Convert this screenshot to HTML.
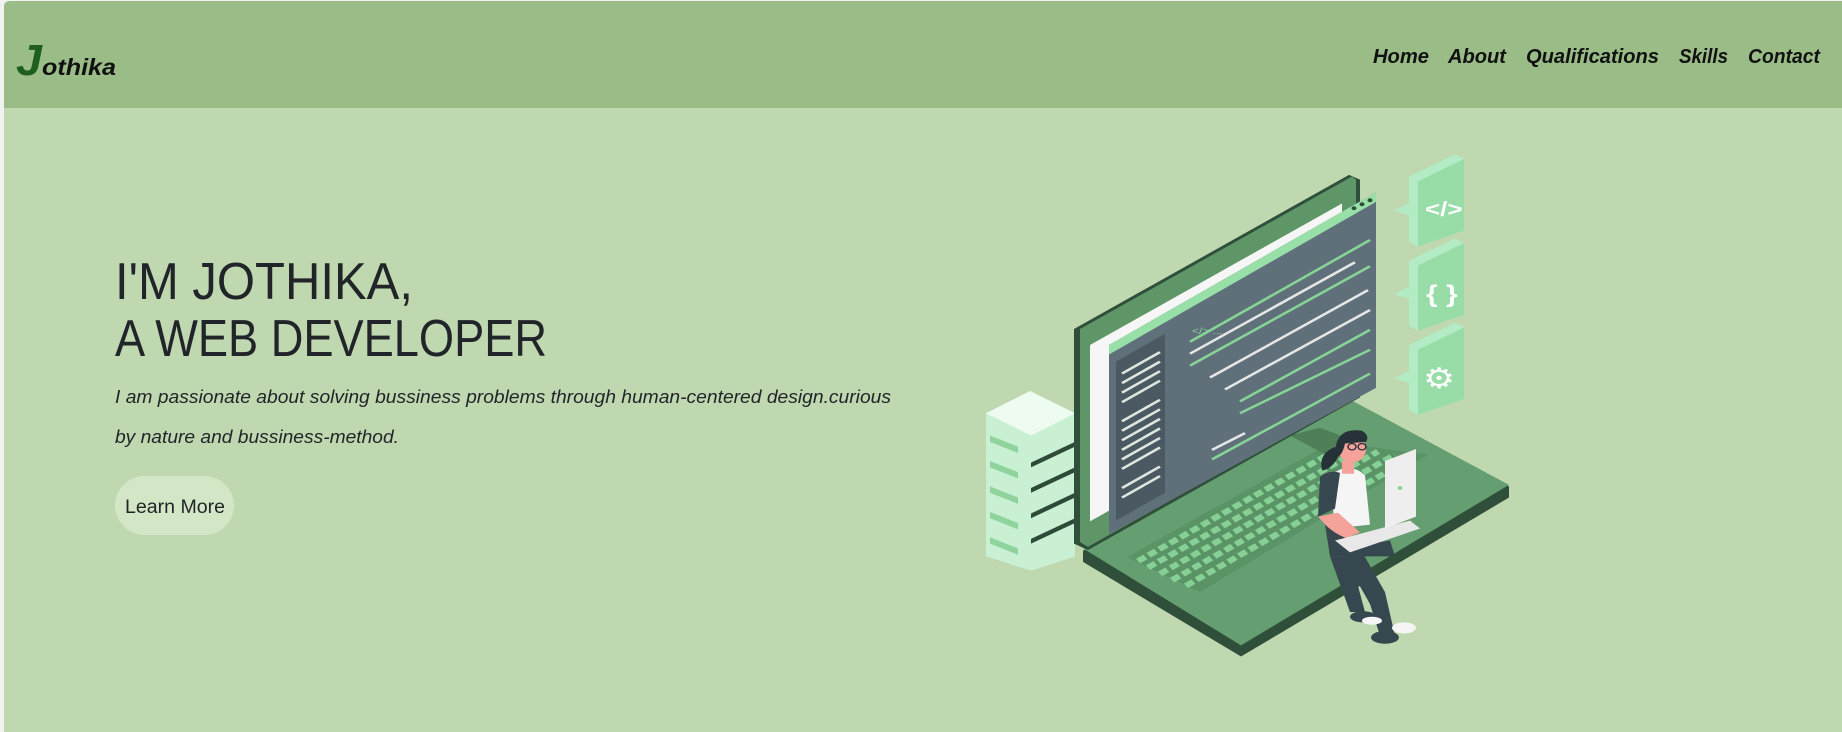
<!DOCTYPE html>
<html><head><meta charset="utf-8"><style>
html,body{margin:0;padding:0;width:1842px;height:732px;overflow:hidden;background:#f2f2f2;}
svg{position:absolute;left:0;top:0;}
</style></head><body>
<svg width="1842" height="732" viewBox="0 0 1842 732" xmlns="http://www.w3.org/2000/svg" font-family="Liberation Sans, sans-serif">
<rect x="4" y="1" width="1850" height="740" rx="6" fill="#bfd8b0"/>
<path d="M4,108 L4,7 Q4,1 10,1 L1842,1 L1842,108 Z" fill="#9abd87"/>
<!-- logo -->
<text x="16" y="75" font-size="44" font-weight="bold" font-style="italic" fill="#1e5e1e" textLength="26" lengthAdjust="spacingAndGlyphs">J</text>
<text x="42" y="75" font-size="23" font-weight="bold" font-style="italic" fill="#111" textLength="74" lengthAdjust="spacingAndGlyphs">othika</text>
<!-- nav -->
<g font-size="20" font-weight="bold" font-style="italic" fill="#111">
<text x="1373" y="63" textLength="56" lengthAdjust="spacingAndGlyphs">Home</text>
<text x="1448" y="63" textLength="58" lengthAdjust="spacingAndGlyphs">About</text>
<text x="1526" y="63" textLength="133" lengthAdjust="spacingAndGlyphs">Qualifications</text>
<text x="1679" y="63" textLength="49" lengthAdjust="spacingAndGlyphs">Skills</text>
<text x="1748" y="63" textLength="72" lengthAdjust="spacingAndGlyphs">Contact</text>
</g>
<!-- heading -->
<g fill="#212529" font-size="52">
<text x="115" y="299" textLength="298" lengthAdjust="spacingAndGlyphs">I'M JOTHIKA,</text>
<text x="115" y="356" textLength="432" lengthAdjust="spacingAndGlyphs">A WEB DEVELOPER</text>
</g>
<g fill="#212529" font-size="18" font-style="italic">
<text x="115" y="403" textLength="776" lengthAdjust="spacingAndGlyphs">I am passionate about solving bussiness problems through human-centered design.curious</text>
<text x="115" y="443" textLength="284" lengthAdjust="spacingAndGlyphs">by nature and bussiness-method.</text>
</g>
<rect x="115" y="476" width="119" height="59" rx="29.5" fill="#d3e6c6"/>
<text x="125" y="513" font-size="19" fill="#212529" textLength="100" lengthAdjust="spacingAndGlyphs">Learn More</text>

<!-- illustration -->
<g transform="scale(1,0.7948)">
<g>
<polygon points="986,520 1030,492 1075,520 1075,700 1031,718 986,700" fill="#c9f0d3"/>
<polygon points="986,520 1030,492 1075,520 1031,548" fill="#eefbf1"/>
<g fill="#2e4a38">
<polygon points="1031,582 1075,556 1075,562 1031,588"/>
<polygon points="1031,614 1075,588 1075,594 1031,620"/>
<polygon points="1031,646 1075,620 1075,626 1031,652"/>
<polygon points="1031,678 1075,652 1075,658 1031,684"/>
</g>
<g fill="#8fd49d">
<polygon points="990,548 1018,562 1018,570 990,556"/>
<polygon points="990,580 1018,594 1018,602 990,588"/>
<polygon points="990,612 1018,626 1018,634 990,620"/>
<polygon points="990,644 1018,658 1018,666 990,652"/>
<polygon points="990,676 1018,690 1018,698 990,684"/>
</g>
</g>
<polygon points="1083,693 1349,505 1509,612 1509,626 1241,826 1083,707" fill="#2f4f3a"/>
<polygon points="1083,690 1349,502 1509,610 1241,812" fill="#659e70"/>
<polygon points="1127,701 1332,556 1428,572 1200,745" fill="#5a9466"/>
<g stroke="#86cf95" stroke-width="7" stroke-dasharray="9,4">
<line x1="1138" y1="706" x2="1345" y2="560"/>
<line x1="1148" y1="714" x2="1360" y2="566"/>
<line x1="1160" y1="722" x2="1378" y2="568"/>
<line x1="1172" y1="730" x2="1395" y2="572"/>
<line x1="1186" y1="737" x2="1412" y2="576"/>
</g>
<polygon points="1290,548 1320,538 1365,560 1330,575" fill="#4f7f59"/>
<polygon points="1074,414 1349,220 1360,226 1360,500 1088,692 1074,684" fill="#2f4f3a"/>
<polygon points="1080,414 1352,222 1356,226 1356,498 1088,688 1080,682" fill="#5e9668"/>
<polygon points="1090,434 1342,256 1342,478 1090,656" fill="#f6f6f6"/>
<polygon points="1109,434 1376,242 1376,488 1109,672" fill="#5f707a"/>
<polygon points="1109,434 1376,242 1376,254 1109,446" fill="#98e0a8"/>
<polygon points="1116,455 1165,420 1165,620 1116,655" fill="#4b5a62"/>
<g stroke="#dfe6df" stroke-width="3">
<line x1="1122" y1="470" x2="1160" y2="443"/><line x1="1122" y1="482" x2="1160" y2="455"/>
<line x1="1122" y1="494" x2="1160" y2="467"/><line x1="1122" y1="506" x2="1160" y2="479"/>
<line x1="1122" y1="530" x2="1160" y2="503"/><line x1="1122" y1="542" x2="1160" y2="515"/>
<line x1="1122" y1="554" x2="1160" y2="527"/><line x1="1122" y1="566" x2="1160" y2="539"/>
<line x1="1122" y1="578" x2="1160" y2="551"/><line x1="1122" y1="590" x2="1160" y2="563"/>
<line x1="1122" y1="614" x2="1160" y2="587"/><line x1="1122" y1="626" x2="1160" y2="599"/>
</g>
<g stroke-width="3">
<line x1="1190" y1="430" x2="1370" y2="302" stroke="#86d496"/>
<line x1="1190" y1="445" x2="1355" y2="330" stroke="#e6e6e6"/>
<line x1="1190" y1="460" x2="1370" y2="335" stroke="#86d496"/>
<line x1="1210" y1="475" x2="1368" y2="365" stroke="#e6e6e6"/>
<line x1="1225" y1="490" x2="1370" y2="390" stroke="#e6e6e6"/>
<line x1="1240" y1="505" x2="1370" y2="415" stroke="#86d496"/>
<line x1="1240" y1="520" x2="1370" y2="440" stroke="#86d496"/>
<line x1="1212" y1="566" x2="1245" y2="545" stroke="#e6e6e6"/>
<line x1="1212" y1="578" x2="1370" y2="470" stroke="#86d496"/>
</g>
<text x="1192" y="420" font-size="12" fill="#86d496">&lt;/&gt; ...</text>
<g fill="#2f4f3a"><circle cx="1354" cy="262" r="2.5"/><circle cx="1362" cy="257" r="2.5"/><circle cx="1370" cy="252" r="2.5"/></g>
<g>
<polygon points="1409,222 1455,194 1464,200 1464,290 1418,310 1409,304" fill="#b3ebc4"/>
<polygon points="1418,228 1464,200 1464,290 1418,310" fill="#98dca8"/>
<polygon points="1394,265 1418,250 1418,275" fill="#b3ebc4"/>
<text x="1425" y="272" font-size="26" font-weight="bold" fill="#fff">&lt;/&gt;</text>
<polygon points="1409,328 1455,300 1464,306 1464,396 1418,416 1409,410" fill="#b3ebc4"/>
<polygon points="1418,334 1464,306 1464,396 1418,416" fill="#98dca8"/>
<polygon points="1394,370 1418,355 1418,380" fill="#b3ebc4"/>
<text x="1426" y="380" font-size="30" font-weight="bold" fill="#fff">{ }</text>
<polygon points="1409,434 1455,406 1464,412 1464,502 1418,522 1409,516" fill="#b3ebc4"/>
<polygon points="1418,440 1464,412 1464,502 1418,522" fill="#98dca8"/>
<polygon points="1394,476 1418,461 1418,486" fill="#b3ebc4"/>
<text x="1423" y="488" font-size="36" fill="#fff">⚙</text>
</g>
<g>
<path d="M1343,700 L1370,760 L1380,800 L1395,800 L1385,745 L1360,690 Z" fill="#37474f"/>
<path d="M1330,700 L1350,770 L1365,770 L1350,700 Z" fill="#37474f"/>
<ellipse cx="1385" cy="802" rx="14" ry="8" fill="#37474f"/><ellipse cx="1404" cy="790" rx="12" ry="7" fill="#f5f5f5"/>
<ellipse cx="1363" cy="776" rx="13" ry="7" fill="#37474f"/><ellipse cx="1372" cy="781" rx="10" ry="5" fill="#f5f5f5"/>
<path d="M1330,598 Q1350,580 1365,598 L1370,660 L1335,665 Z" fill="#f5f5f5"/>
<path d="M1320,600 Q1330,590 1340,595 L1335,640 L1318,650 Z" fill="#37474f"/>
<path d="M1318,650 L1340,680 L1360,670 L1338,645 Z" fill="#f4a29a"/>
<path d="M1325,660 Q1350,690 1390,680 L1395,700 L1330,700 Z" fill="#37474f"/>
<polygon points="1335,680 1410,655 1420,665 1350,695" fill="#e8e8e8"/>
<polygon points="1385,580 1416,565 1416,650 1385,665" fill="#eeeeee"/>
<circle cx="1400" cy="614" r="2.5" fill="#86d496"/>
<rect x="1342" y="580" width="12" height="16" fill="#f4a29a"/>
<ellipse cx="1352" cy="565" rx="14" ry="17" fill="#f4a29a"/>
<path d="M1336,560 Q1340,538 1362,542 Q1370,548 1366,556 L1345,558 Q1342,575 1336,575 Z" fill="#263238"/>
<path d="M1336,562 Q1318,570 1322,592 Q1332,590 1338,575 Z" fill="#263238"/>
<g stroke="#263238" stroke-width="1.5" fill="none"><circle cx="1352" cy="562" r="4"/><circle cx="1362" cy="562" r="4"/></g>
</g>
</g>
</svg>
</body></html>
